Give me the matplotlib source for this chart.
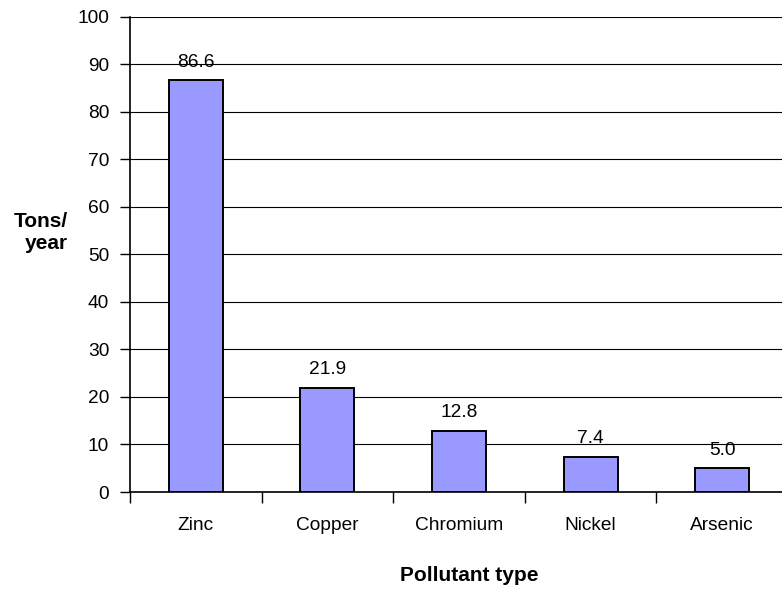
import numpy as np
import matplotlib.pyplot as plt

plt.rcParams['font.family'] = ['Liberation Sans', 'DejaVu Sans']

# data
pollutants = ['Zinc', 'Copper', 'Chromium', 'Nickel', 'Arsenic']
tons_per_year = [86.6, 21.9, 12.8, 7.4, 5.0]
y_ticks = [0, 10, 20, 30, 40, 50, 60, 70, 80, 90, 100]

fig = plt.figure(figsize=(7.82, 5.92), dpi=100)
ax = fig.add_axes([0.1662, 0.1689, 0.8415, 0.8029])

x = np.arange(len(pollutants))
bars = ax.bar(x, tons_per_year, width=0.41, color='#9999FF',
              edgecolor='black', linewidth=1.4, zorder=3)

# value labels above bars
for xi, v in zip(x, tons_per_year):
    ax.annotate(f'{v:.1f}', (xi, v), xytext=(0, 7), textcoords='offset points',
                ha='center', va='bottom', fontsize=13.8, zorder=4)

ax.set_xlim(-0.5, len(pollutants) - 0.5)
ax.set_ylim(0, 100)
ax.set_yticks(y_ticks)
ax.grid(axis='y', color='black', linewidth=0.8, zorder=0)
ax.set_axisbelow(True)

# category labels in centres, tick marks at the boundaries
ax.set_xticks(x)
ax.set_xticklabels(pollutants)
ax.set_xticks(np.arange(len(pollutants) + 1) - 0.5, minor=True)
ax.tick_params(axis='x', which='major', length=0, pad=18, labelsize=13.8)
ax.tick_params(axis='x', which='minor', length=8, width=1, direction='out')
ax.tick_params(axis='y', length=7, width=1, direction='out', pad=8, labelsize=13.8)

for s in ['top', 'right']:
    ax.spines[s].set_visible(False)
for s in ['left', 'bottom']:
    ax.spines[s].set_linewidth(1.2)

ax.set_ylabel('Tons/\nyear', rotation=0, fontsize=15, fontweight='bold',
              ha='right', va='center', multialignment='right')
ax.yaxis.set_label_coords(-0.094, 0.546)
ax.set_xlabel('Pollutant type', fontsize=15, fontweight='bold', va='top')
ax.xaxis.set_label_coords(0.516, -0.156)

fig.savefig('out.png', dpi=100)
